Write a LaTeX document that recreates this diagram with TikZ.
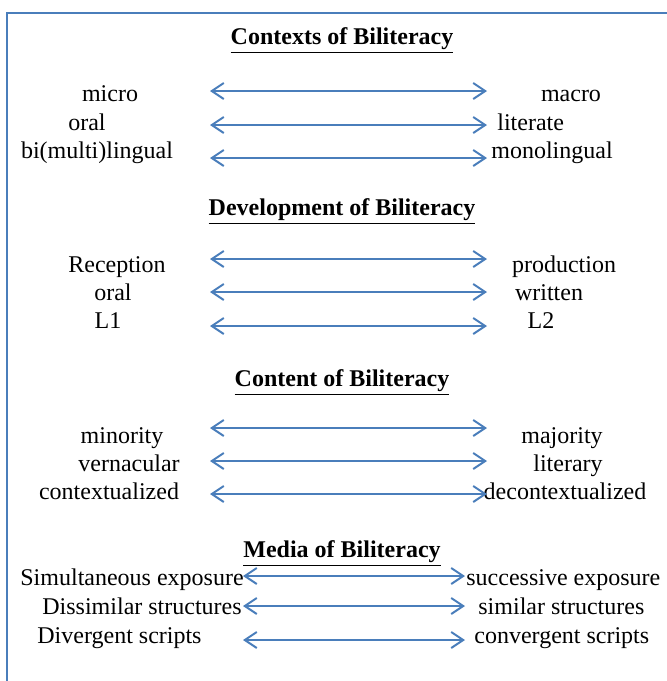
\documentclass[tikz,border=0pt]{standalone}
\usepackage{fontspec}
\setmainfont{Liberation Serif}
\usetikzlibrary{arrows.meta, positioning}
\definecolor{officeblue}{RGB}{74,126,187}

\begin{document}
\begin{tikzpicture} [%
    x = 0.5pt,
    y = -0.5pt,
    every node/.style = {%
      inner sep = 0pt,
      anchor = mid,
      font = \fontsize{12}{14}\selectfont },
    heading/.style = {font = \fontsize{12}{14}\selectfont\bfseries},
    link/.style = {%
      <->,
      >= { Straight Barb[length=6pt, width=8pt] },
      draw = officeblue,
      line width = 1pt },
    frame/.style = {draw = officeblue, line width = 1pt}
  ]

  \useasboundingbox (0,0) rectangle (667,681);
  \draw[frame] (667,13) -- (7,13) -- (7,681);

  % contexts
  \node[heading] (Hctx) at (342,40) {\underline{Contexts of Biliteracy}};
  \node (micro) at (110,97) {micro};
  \node (macro) at (571,97) {macro};
  \node (oral1) at (87,126) {oral};
  \node[anchor=mid west] (literate) at (497,126) {literate};
  \node (bi) at (97,154) {bi(multi)lingual};
  \node (mono) at (552,154) {monolingual};
  \coordinate (c1w) at (210,91);  \coordinate (c1e) at (487,91);
  \coordinate (c2w) at (210,125); \coordinate (c2e) at (487,125);
  \coordinate (c3w) at (210,158); \coordinate (c3e) at (487,158);

  % development
  \node[heading] (Hdev) at (342,211) {\underline{Development of Biliteracy}};
  \node (recep) at (117,268) {Reception};
  \node (prod) at (564,268) {production};
  \node (oral2) at (113,296) {oral};
  \node (written) at (549,296) {written};
  \node (Lone) at (108,324) {L1};
  \node (Ltwo) at (541,324) {L2};
  \coordinate (d1w) at (210,259); \coordinate (d1e) at (487,259);
  \coordinate (d2w) at (210,292); \coordinate (d2e) at (487,292);
  \coordinate (d3w) at (210,326); \coordinate (d3e) at (487,326);

  % content
  \node[heading] (Hcon) at (342,382) {\underline{Content of Biliteracy}};
  \node (minor) at (122,439) {minority};
  \node (major) at (562,439) {majority};
  \node (vern) at (129,467) {vernacular};
  \node (liter) at (568,467) {literary};
  \node (ctx) at (109,495) {contextualized};
  \node (dectx) at (565,495) {decontextualized};
  \coordinate (n1w) at (210,428); \coordinate (n1e) at (487,428);
  \coordinate (n2w) at (210,461); \coordinate (n2e) at (487,461);
  \coordinate (n3w) at (210,494); \coordinate (n3e) at (487,494);

  % media
  \node[heading] (Hmed) at (342,553) {\underline{Media of Biliteracy}};
  \node[anchor=mid west] (simul) at (20,581) {Simultaneous exposure};
  \node[anchor=mid west] (succ) at (466,581) {successive exposure};
  \node[anchor=mid west] (dissim) at (42,610) {Dissimilar structures};
  \node[anchor=mid west] (sim) at (478,610) {similar structures};
  \node[anchor=mid west] (diverg) at (37,639) {Divergent scripts};
  \node[anchor=mid west] (converg) at (474,639) {convergent scripts};
  \coordinate (m1w) at (243,576); \coordinate (m1e) at (465,576);
  \coordinate (m2w) at (243,606); \coordinate (m2e) at (465,606);
  \coordinate (m3w) at (243,640); \coordinate (m3e) at (465,640);

  \foreach \a in {c1,c2,c3,d1,d2,d3,n1,n2,n3,m1,m2,m3}
    \draw[link] (\a w) -- (\a e);

\end{tikzpicture}
\end{document}
